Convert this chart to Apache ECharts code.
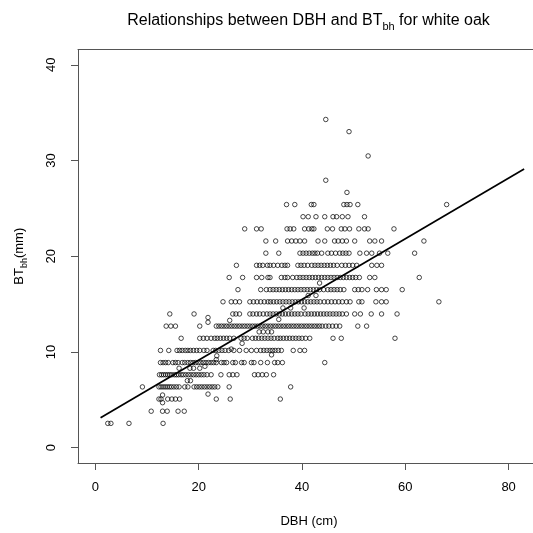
<!DOCTYPE html>
<html>
<head>
<meta charset="utf-8">
<script src="https://cdn.jsdelivr.net/npm/echarts@6/dist/echarts.min.js"></script>
<style>html,body{margin:0;padding:0;background:#fff;}#c{width:533px;height:533px;}</style>
</head>
<body>
<div id="c"></div>
<script>
// BT (mm) rows and the DBH (cm) values of the points in each row
const r2_54 = [2.4, 3.0, 6.5, 13.1];
const r3_81 = [10.8, 13.0, 13.9, 16.0, 17.2];
const r5_08 = [12.3, 12.7, 14.0, 14.8, 15.5, 16.3, 23.4, 26.1, 35.8];
const r6_35 = [9.1, 12.3, 12.7, 13.1, 13.5, 13.9, 14.3, 14.7, 15.2, 15.7, 16.2, 17.3, 17.9, 19.1, 19.6, 20.1, 20.6, 21.1, 21.6, 22.1, 22.6, 23.1, 23.7, 25.9, 37.8];
const r7_62 = [12.4, 12.8, 13.2, 13.6, 14.0, 14.4, 14.8, 15.3, 15.7, 16.1, 16.6, 17.0, 17.5, 18.0, 18.5, 19.0, 19.5, 20.0, 20.5, 21.0, 21.6, 22.4, 24.3, 25.9, 26.6, 27.4, 30.8, 31.5, 32.3, 33.1, 34.5];
const r8_89 = [12.6, 13.1, 13.6, 14.1, 15.0, 15.5, 16.0, 16.8, 17.3, 17.9, 18.4, 18.9, 19.4, 19.9, 20.4, 20.9, 21.4, 21.9, 22.4, 22.9, 23.4, 24.4, 24.9, 25.4, 26.6, 27.1, 28.3, 28.8, 30.2, 30.7, 32.0, 33.3, 34.7, 35.3, 36.2, 44.4];
const r10_16 = [12.6, 14.2, 15.8, 16.3, 16.8, 17.4, 17.9, 18.4, 19.0, 19.6, 20.2, 21.0, 21.6, 22.8, 23.3, 23.9, 24.5, 25.1, 25.8, 26.8, 27.9, 29.2, 30.2, 31.2, 32.0, 32.6, 33.2, 33.8, 34.3, 34.8, 35.4, 36.0, 38.3, 39.6, 40.5];
const r11_43 = [16.6, 20.2, 20.9, 21.6, 22.4, 23.1, 23.6, 24.2, 24.8, 25.4, 26.0, 26.8, 28.2, 28.8, 29.4, 30.4, 31.0, 31.6, 32.2, 32.8, 33.4, 34.0, 34.6, 35.3, 35.8, 36.4, 37.0, 37.6, 38.2, 38.8, 39.4, 40.0, 40.7, 41.5, 46.0, 47.6, 58.0];
const r12_70 = [13.7, 14.6, 15.5, 20.2, 23.4, 23.9, 24.4, 24.9, 25.4, 25.9, 26.4, 26.9, 27.4, 27.9, 28.4, 28.9, 29.4, 29.9, 30.4, 30.9, 31.4, 31.9, 32.4, 32.9, 33.4, 33.9, 34.4, 34.9, 35.4, 35.9, 36.4, 36.9, 37.4, 37.9, 38.4, 38.9, 39.4, 39.9, 40.4, 40.9, 41.4, 41.9, 42.4, 42.9, 43.4, 43.9, 44.6, 45.2, 45.9, 46.6, 47.3, 50.8, 52.5];
const r13_97 = [14.4, 19.1, 26.6, 27.2, 27.9, 29.9, 30.5, 31.2, 31.8, 32.5, 33.2, 33.8, 34.4, 35.0, 35.6, 36.2, 36.8, 37.4, 38.0, 38.6, 39.2, 39.8, 40.6, 41.2, 41.8, 42.4, 43.0, 43.6, 44.2, 44.8, 45.4, 46.0, 46.6, 47.2, 47.8, 48.6, 50.2, 51.3, 53.4, 55.4, 58.4];
const r15_24 = [24.7, 26.3, 27.1, 27.9, 29.9, 30.6, 31.3, 32.0, 32.7, 33.4, 33.9, 34.5, 35.1, 35.7, 36.3, 36.9, 37.5, 38.1, 38.7, 39.3, 39.9, 40.5, 41.1, 41.7, 42.3, 42.9, 43.5, 44.3, 45.0, 45.7, 46.4, 47.1, 47.8, 48.6, 49.3, 51.0, 51.6, 54.3, 55.4, 56.3, 66.5];
const r16_51 = [27.6, 32.0, 33.1, 33.8, 34.4, 35.0, 35.6, 36.2, 36.8, 37.4, 38.0, 38.6, 39.2, 39.8, 40.4, 41.0, 41.6, 42.2, 42.8, 43.4, 44.2, 45.0, 45.6, 46.2, 46.8, 47.4, 48.1, 50.2, 50.9, 51.6, 52.7, 54.4, 55.4, 56.3, 59.4];
const r17_78 = [25.9, 28.5, 31.2, 32.2, 33.4, 33.8, 36.0, 36.7, 37.2, 38.2, 39.0, 39.6, 40.2, 40.8, 41.4, 42.0, 42.6, 43.2, 43.8, 44.4, 45.0, 45.6, 46.2, 46.8, 47.4, 48.0, 48.6, 49.2, 49.8, 50.4, 51.1, 53.1, 54.1, 62.7];
const r19_05 = [27.3, 31.2, 31.8, 32.4, 33.3, 33.8, 34.5, 35.3, 36.1, 36.7, 37.2, 39.2, 39.8, 40.4, 41.1, 41.9, 42.5, 43.1, 43.7, 44.3, 44.9, 45.5, 46.1, 46.8, 47.7, 48.4, 49.1, 49.8, 50.6, 53.5, 54.5, 55.4];
const r20_32 = [33.0, 35.5, 39.6, 40.2, 40.8, 41.4, 42.0, 42.5, 43.0, 43.8, 45.0, 45.7, 46.5, 47.3, 47.9, 48.5, 49.1, 51.2, 52.5, 53.5, 55.0, 56.6, 61.8];
const r21_59 = [33.0, 34.9, 37.2, 38.0, 38.8, 39.6, 40.5, 43.1, 44.4, 46.3, 47.0, 47.8, 48.6, 50.2, 53.1, 54.1, 55.4, 63.6];
const r22_86 = [28.9, 31.2, 32.1, 37.1, 37.7, 38.4, 40.5, 41.3, 41.9, 42.3, 44.9, 45.9, 47.6, 48.3, 49.2, 51.0, 52.1, 52.8, 57.8];
const r24_13 = [40.2, 41.2, 42.7, 44.4, 46.0, 46.7, 47.8, 48.9, 52.1];
const r25_40 = [37.0, 38.6, 41.8, 42.3, 48.1, 48.7, 49.3, 50.8, 68.0];
const r26_67 = [48.7];
const r27_94 = [44.6];
const r30_48 = [52.8];
const r33_02 = [49.1];
const r34_29 = [44.6];

const btLevels = [2.54, 3.81, 5.08, 6.35, 7.62, 8.89, 10.16, 11.43, 12.70, 13.97, 15.24, 16.51, 17.78, 19.05, 20.32, 21.59, 22.86, 24.13, 25.40, 26.67, 27.94, 30.48, 33.02, 34.29];
const rowDbh = [r2_54, r3_81, r5_08, r6_35, r7_62, r8_89, r10_16, r11_43, r12_70, r13_97, r15_24, r16_51, r17_78, r19_05, r20_32, r21_59, r22_86, r24_13, r25_40, r26_67, r27_94, r30_48, r33_02, r34_29];

// points that lie between the rows
const extraDbh = [13.0, 13.0, 21.8, 17.8, 18.4, 16.2, 18.3, 19.0, 20.2, 21.2, 23.4, 23.5, 26.3, 28.4, 31.7, 32.5, 33.4, 34.1, 21.8, 21.8, 26.0, 35.5, 36.3, 37.8, 40.4, 41.2, 42.7, 43.4, 34.1];
const extraBt  = [4.7, 5.5, 5.6, 7.0, 7.0, 8.3, 8.3, 8.3, 8.3, 8.5, 9.2, 9.6, 10.3, 10.9, 12.1, 12.1, 12.1, 12.1, 13.6, 13.1, 13.3, 13.4, 14.6, 14.6, 14.6, 15.9, 15.9, 17.2, 9.7];

// fitted line end points
const lineDbh = [1, 83];
const lineBt = [3.13, 29.12];

const xTicks = [0, 20, 40, 60, 80];
const yTicks = [0, 10, 20, 30, 40];

const pts = [];
btLevels.forEach((bt, i) => rowDbh[i].forEach(d => pts.push([d, bt])));
extraDbh.forEach((d, i) => pts.push([d, extraBt[i]]));
const lineData = lineDbh.map((d, i) => [d, lineBt[i]]);

const FF = '"Liberation Sans", Arial, sans-serif';
const axCol = '#555';
const chart = echarts.init(document.getElementById('c'), null, {renderer: 'canvas'});
chart.setOption({
  animation: false,
  backgroundColor: '#fff',
  title: {
    left: 303.5, top: 5, textAlign: 'center',
    text: '{a|Relationships between DBH and BT}{b|bh}{a| for white oak}',
    textStyle: {
      fontWeight: 'normal',
      rich: {
        a: {fontSize: 16, fontFamily: FF, fontWeight: 'normal', color: '#000', lineHeight: 22},
        b: {fontSize: 11, fontFamily: FF, fontWeight: 'normal', color: '#000', lineHeight: 11, verticalAlign: 'bottom'}
      }
    }
  },
  grid: {left: 78, right: 0, top: 49.5, bottom: 69.5, containLabel: false},
  xAxis: [{
    type: 'value', min: -3.37, max: 84.72, position: 'bottom',
    name: 'DBH (cm)', nameLocation: 'middle', nameGap: 52,
    nameTextStyle: {fontSize: 13, fontFamily: FF, color: '#000', padding: [0, 0, 0, 7]},
    axisLine: {show: true, onZero: false, lineStyle: {color: axCol, width: 1}},
    axisTick: {show: true, length: 7, inside: false, customValues: xTicks, lineStyle: {color: axCol}},
    axisLabel: {show: true, customValues: xTicks, margin: 18, fontSize: 13, fontFamily: FF, color: '#000'},
    splitLine: {show: false}
  }, {
    type: 'value', min: -3.37, max: 84.72, position: 'top',
    axisLine: {show: true, onZero: false, lineStyle: {color: axCol, width: 1}},
    axisTick: {show: false}, axisLabel: {show: false}, splitLine: {show: false}
  }],
  yAxis: [{
    type: 'value', min: -1.6, max: 41.6, position: 'left',
    name: '{a|BT}{b|bh}{a|(mm)}', nameLocation: 'middle', nameGap: 49, nameRotate: 90,
    nameTextStyle: {
      rich: {
        a: {fontSize: 13, fontFamily: FF, color: '#000', lineHeight: 20},
        b: {fontSize: 9, fontFamily: FF, color: '#000', lineHeight: 10, verticalAlign: 'bottom'}
      }
    },
    axisLine: {show: true, onZero: false, lineStyle: {color: axCol, width: 1}},
    axisTick: {show: true, length: 7, inside: false, customValues: yTicks, lineStyle: {color: axCol}},
    axisLabel: {show: true, customValues: yTicks, rotate: 90, margin: 20, fontSize: 13, fontFamily: FF, color: '#000'},
    splitLine: {show: false}
  }],
  series: [{
    type: 'scatter', xAxisIndex: 0, yAxisIndex: 0,
    data: pts, symbol: 'circle', symbolSize: 4.5,
    itemStyle: {color: 'rgba(0,0,0,0)', borderColor: '#000', borderWidth: 0.9},
    silent: true, z: 2
  }, {
    type: 'line', xAxisIndex: 0, yAxisIndex: 0,
    data: lineData, symbol: 'none',
    lineStyle: {color: '#000', width: 1.7}, silent: true, z: 3
  }]
});
</script>
</body>
</html>
